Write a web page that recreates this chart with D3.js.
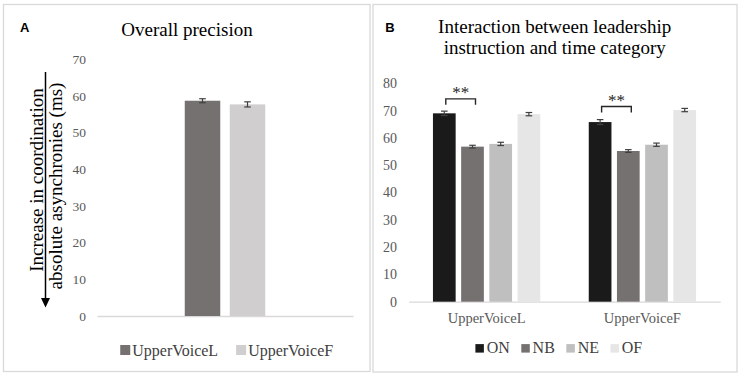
<!DOCTYPE html>
<html>
<head>
<meta charset="utf-8">
<script src="https://cdn.jsdelivr.net/npm/d3@7/dist/d3.min.js"></script>
<style>
  html, body { margin: 0; padding: 0; background: #fff; }
  svg { display: block; }
  text { font-family: "Liberation Serif", "Times New Roman", serif; }
</style>
</head>
<body>
<svg id="chart" width="743" height="376"></svg>
<script>
// ---------- Data ----------
// Panel A
const aSeries = ["UpperVoiceL", "UpperVoiceF"];
const aValues = [58.7, 57.7];
const aErrors = [0.55, 0.7];
const aTicks = [0, 10, 20, 30, 40, 50, 60, 70];

// Panel B
const bCategories = ["UpperVoiceL", "UpperVoiceF"];
const bSeries = ["ON", "NB", "NE", "OF"];
const bValues = [
  [69.0, 56.8, 57.8, 68.7],   // UpperVoiceL
  [65.8, 55.2, 57.5, 70.2]    // UpperVoiceF
];
const bErrors = [
  [0.8, 0.5, 0.6, 0.6],
  [0.9, 0.5, 0.6, 0.6]
];
const bTicks = [0, 10, 20, 30, 40, 50, 60, 70, 80];
// significance brackets (ON vs NB) and their levels
const bSig = [
  { category: "UpperVoiceL", from: "ON", to: "NB", level: 74.3, label: "**" },
  { category: "UpperVoiceF", from: "ON", to: "NB", level: 71.5, label: "**" }
];

// ---------- Styles ----------
const aColors = ["#767171", "#d0cece"];
const bColors = ["#1a1a1a", "#767171", "#bfbfbf", "#e7e6e6"];
const tickColor = "#595959";
const axisColor = "#d9d9d9";
const errColor = "#404040";

const svg = d3.select("#chart");

// panel frames
svg.append("rect").attr("x", 3.5).attr("y", 4.5).attr("width", 366.5).attr("height", 367)
  .attr("fill", "none").attr("stroke", "#d9d9d9").attr("stroke-width", 1.3);
svg.append("rect").attr("x", 373).attr("y", 4.5).attr("width", 364).attr("height", 367.5)
  .attr("fill", "none").attr("stroke", "#d9d9d9").attr("stroke-width", 1.3);

// ================= Panel A =================
const gA = svg.append("g");
const yA = d3.scaleLinear().domain([0, 70]).range([316, 59.3]);
const xA = d3.scaleBand().domain(["grp"]).range([97, 353]).padding(0);
const xAi = d3.scaleBand().domain(aSeries).range([0, xA.bandwidth()])
  .paddingInner(0.211).paddingOuter(1.95);

gA.append("text").attr("x", 20).attr("y", 32.3)
  .style("font-family", "'Liberation Sans', Arial, sans-serif")
  .style("font-weight", "bold").style("font-size", "13px").attr("fill", "#000").text("A");
gA.append("text").attr("x", 187).attr("y", 35.5).attr("text-anchor", "middle")
  .style("font-size", "19px").attr("fill", "#000").text("Overall precision");

// y axis (no line, labels only)
const axA = gA.append("g").attr("transform", "translate(86,0)")
  .call(d3.axisLeft(yA).tickValues(aTicks).tickSize(0).tickPadding(0));
axA.select(".domain").remove();
axA.selectAll("text").attr("fill", tickColor)
  .style("font-family", "'Liberation Serif', serif").style("font-size", "13.5px");

// baseline
const axAx = gA.append("g").attr("transform", `translate(0,${yA(0)})`)
  .call(d3.axisBottom(xA).tickSize(0).tickFormat(() => ""));
axAx.select(".domain").attr("stroke", axisColor).attr("stroke-width", 1.3);

// bars
const barsA = gA.append("g").selectAll("g").data(aSeries).join("g");
barsA.append("rect")
  .attr("x", d => xA("grp") + xAi(d))
  .attr("width", xAi.bandwidth())
  .attr("y", (d, i) => yA(aValues[i]))
  .attr("height", (d, i) => yA(0) - yA(aValues[i]))
  .attr("fill", (d, i) => aColors[i]);
barsA.each(function (d, i) {
  const cx = xA("grp") + xAi(d) + xAi.bandwidth() / 2;
  const g = d3.select(this).append("g").attr("stroke", errColor).attr("stroke-width", 1.2);
  const y1 = yA(aValues[i] + aErrors[i]), y2 = yA(aValues[i] - aErrors[i]);
  g.append("line").attr("x1", cx).attr("x2", cx).attr("y1", y1).attr("y2", y2);
  g.append("line").attr("x1", cx - 3.3).attr("x2", cx + 3.3).attr("y1", y1).attr("y2", y1);
  g.append("line").attr("x1", cx - 3.3).attr("x2", cx + 3.3).attr("y1", y2).attr("y2", y2);
});

// y label with arrow
gA.append("text").attr("transform", "translate(43,180) rotate(-90)")
  .attr("text-anchor", "middle").style("font-size", "19px").attr("fill", "#000")
  .text("Increase in coordination");
gA.append("text").attr("transform", "translate(62,186) rotate(-90)")
  .attr("text-anchor", "middle").style("font-size", "19px").attr("fill", "#000")
  .text("absolute asynchronies (ms)");
gA.append("line").attr("x1", 45.5).attr("x2", 45.5).attr("y1", 72).attr("y2", 299)
  .attr("stroke", "#000").attr("stroke-width", 1.5);
gA.append("path").attr("d", "M41,298 L50,298 L45.5,307.5 Z").attr("fill", "#000");

// legend A
function legend(g, names, colors, opts) {
  const items = g.append("g");
  let x = 0;
  names.forEach((n, i) => {
    const it = items.append("g").attr("transform", `translate(${x},0)`);
    it.append("rect").attr("x", 0).attr("y", -opts.sq - opts.sqOff).attr("width", opts.sq).attr("height", opts.sq)
      .attr("fill", colors[i]);
    const t = it.append("text").attr("x", opts.sq + opts.gap).attr("y", 0)
      .style("font-size", opts.fs + "px").attr("fill", opts.color).text(n);
    x += opts.sq + opts.gap + t.node().getComputedTextLength() + opts.spacing;
  });
  const total = x - opts.spacing;
  items.attr("transform", `translate(${opts.cx - total / 2},${opts.y})`);
}
legend(gA, aSeries, aColors, { sq: 10, sqOff: 1, gap: 2, spacing: 18, fs: 16, color: "#404040", cx: 226.7, y: 356 });

// ================= Panel B =================
const gB = svg.append("g");
const yB = d3.scaleLinear().domain([0, 80]).range([301.7, 83.3]);
const xB = d3.scaleBand().domain(bCategories).range([408.7, 720.3]).padding(0);
const xBi = d3.scaleBand().domain(bSeries).range([0, xB.bandwidth()])
  .paddingInner(0.195).paddingOuter(0.86);

gB.append("text").attr("x", 385.3).attr("y", 32.3)
  .style("font-family", "'Liberation Sans', Arial, sans-serif")
  .style("font-weight", "bold").style("font-size", "13px").attr("fill", "#000").text("B");
gB.append("text").attr("x", 554.7).attr("y", 33.3).attr("text-anchor", "middle")
  .style("font-size", "19px").attr("fill", "#000").text("Interaction between leadership");
gB.append("text").attr("x", 554.7).attr("y", 53.5).attr("text-anchor", "middle")
  .style("font-size", "19px").attr("fill", "#000").text("instruction and time category");

const axB = gB.append("g").attr("transform", "translate(397,0)")
  .call(d3.axisLeft(yB).tickValues(bTicks).tickSize(0).tickPadding(0));
axB.select(".domain").remove();
axB.selectAll("text").attr("fill", tickColor)
  .style("font-family", "'Liberation Serif', serif").style("font-size", "14px");

const axBx = gB.append("g").attr("transform", `translate(0,${yB(0)})`)
  .call(d3.axisBottom(xB).tickSize(0).tickPadding(0));
axBx.select(".domain").attr("stroke", axisColor).attr("stroke-width", 1.3);
axBx.selectAll("text").attr("fill", tickColor).attr("dy", 0).attr("y", 21.6)
  .style("font-family", "'Liberation Serif', serif").style("font-size", "14.5px");

const groupsB = gB.append("g").selectAll("g").data(bCategories).join("g")
  .attr("transform", d => `translate(${xB(d)},0)`);
groupsB.each(function (cat, ci) {
  const g = d3.select(this);
  bSeries.forEach((s, si) => {
    const v = bValues[ci][si], e = bErrors[ci][si];
    g.append("rect").attr("x", xBi(s)).attr("width", xBi.bandwidth())
      .attr("y", yB(v)).attr("height", yB(0) - yB(v)).attr("fill", bColors[si]);
    const cx = xBi(s) + xBi.bandwidth() / 2;
    const eg = g.append("g").attr("stroke", errColor).attr("stroke-width", 1.2);
    const y1 = yB(v + e), y2 = yB(v - e);
    eg.append("line").attr("x1", cx).attr("x2", cx).attr("y1", y1).attr("y2", y2);
    eg.append("line").attr("x1", cx - 3.3).attr("x2", cx + 3.3).attr("y1", y1).attr("y2", y1);
    eg.append("line").attr("x1", cx - 3.3).attr("x2", cx + 3.3).attr("y1", y2).attr("y2", y2);
  });
});

// significance brackets
bSig.forEach(sg => {
  const x1 = xB(sg.category) + xBi(sg.from) + xBi.bandwidth() / 2 + 1.5;
  const x2 = xB(sg.category) + xBi(sg.to) + xBi.bandwidth() / 2 + 3;
  const y = yB(sg.level);
  gB.append("path").attr("d", `M${x1},${y + 6} V${y} H${x2} V${y + 6}`)
    .attr("fill", "none").attr("stroke", "#262626").attr("stroke-width", 1.4);
  gB.append("text").attr("x", (x1 + x2) / 2).attr("y", y - 0.5).attr("text-anchor", "middle")
    .style("font-size", "17px").attr("fill", "#262626").text(sg.label);
});

legend(gB, bSeries, bColors, { sq: 8.5, sqOff: 0.7, gap: 2.8, spacing: 11.5, fs: 16, color: "#404040", cx: 558.8, y: 353.3 });
</script>
</body>
</html>
